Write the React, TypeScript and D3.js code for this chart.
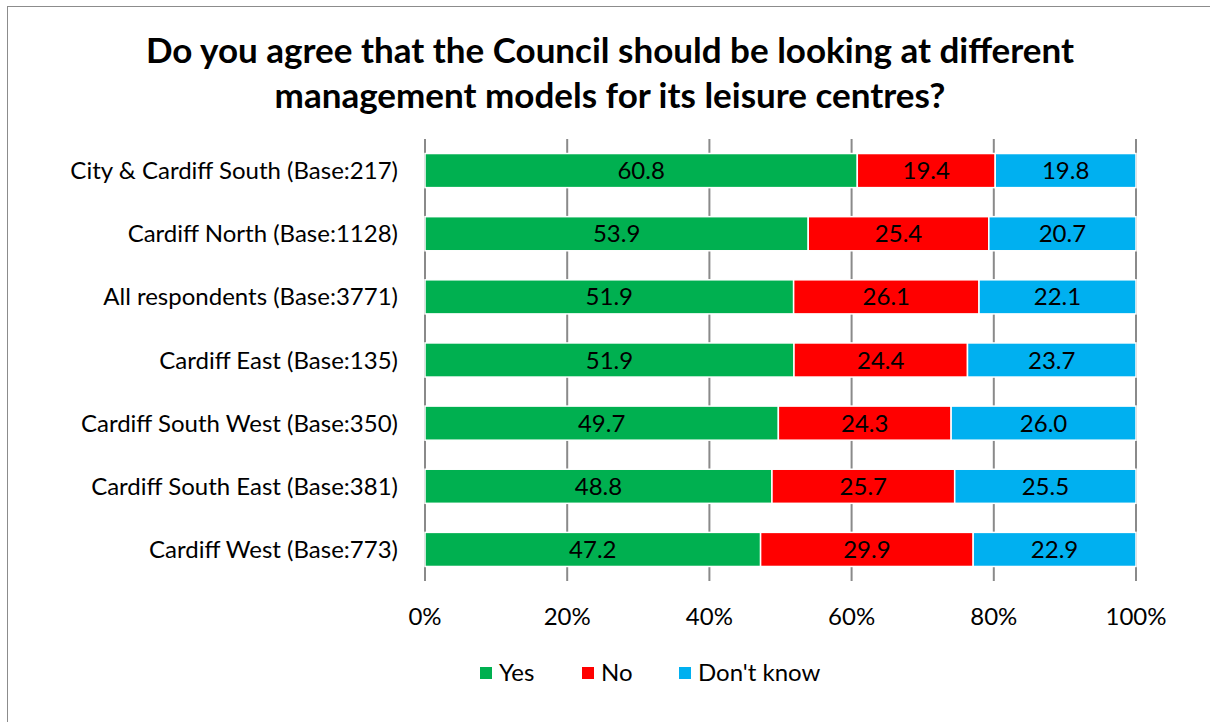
import React from "react";
import * as d3 from "d3";

const categories = [
  "City & Cardiff South (Base:217)",
  "Cardiff North (Base:1128)",
  "All respondents (Base:3771)",
  "Cardiff East (Base:135)",
  "Cardiff South West (Base:350)",
  "Cardiff South East (Base:381)",
  "Cardiff West (Base:773)",
];
const yesValues = [60.8, 53.9, 51.9, 51.9, 49.7, 48.8, 47.2];
const noValues = [19.4, 25.4, 26.1, 24.4, 24.3, 25.7, 29.9];
const dontKnowValues = [19.8, 20.7, 22.1, 23.7, 26.0, 25.5, 22.9];
const seriesNames = ["Yes", "No", "Don't know"];
const seriesColors = ["#00B050", "#FF0000", "#00B0F0"];
const tickValues = [0, 20, 40, 60, 80, 100];
const titleLines = [
  "Do you agree that the Council should be looking at different",
  "management models for its leisure centres?",
];

const W = 1210;
const H = 722;
const FONT = "Lato, 'Open Sans', sans-serif";

export default function App() {
  const x = d3.scaleLinear().domain([0, 100]).range([425, 1136]);
  const y = d3.scaleBand<string>().domain(categories).range([139, 581]).paddingInner(0.46).paddingOuter(0.23);

  const rows = categories.map((c, i) => {
    const vals = [yesValues[i], noValues[i], dontKnowValues[i]];
    const total = d3.sum(vals);
    let acc = 0;
    return vals.map((v, k) => {
      const start = (acc / total) * 100;
      acc += v;
      const end = (acc / total) * 100;
      return { c, k, v, start, end };
    });
  });

  const legendX = [480, 582, 679];

  return (
    <svg width={W} height={H} style={{ position: "absolute", left: 0, top: 0 }} fontFamily={FONT}>
      <rect x={0} y={0} width={W} height={H} fill="#fff" />
      <rect x={7.5} y={6.5} width={W + 20} height={H + 20} fill="#fff" stroke="#8c8c8c" strokeWidth={1} />
      {titleLines.map((t, i) => (
        <text key={i} x={610} y={63 + i * 45} textAnchor="middle" fontSize={35} fontWeight={700} fill="#000">
          {t}
        </text>
      ))}
      {tickValues.map((t) => (
        <line key={t} x1={x(t)} x2={x(t)} y1={139} y2={581} stroke="#8a8a8a" strokeWidth={2} />
      ))}
      {rows.map((segs) =>
        segs.map((s) => (
          <g key={s.c + s.k}>
            <rect
              x={x(s.start)}
              y={y(s.c)!}
              width={x(s.end) - x(s.start)}
              height={y.bandwidth()}
              fill={seriesColors[s.k]}
              stroke="#fff"
              strokeWidth={1.5}
            />
            <text
              x={(x(s.start) + x(s.end)) / 2}
              y={y(s.c)! + y.bandwidth() / 2}
              dy="0.36em"
              textAnchor="middle"
              fontSize={24}
              fill="#000"
            >
              {s.v.toFixed(1)}
            </text>
          </g>
        ))
      )}
      {categories.map((c) => (
        <text key={c} x={398} y={y(c)! + y.bandwidth() / 2} dy="0.36em" textAnchor="end" fontSize={24} fill="#000">
          {c}
        </text>
      ))}
      {tickValues.map((t) => (
        <text key={t} x={x(t)} y={625} textAnchor="middle" fontSize={24} fill="#000">
          {t}%
        </text>
      ))}
      {seriesNames.map((n, i) => (
        <g key={n}>
          <rect x={legendX[i]} y={667} width={12} height={12} fill={seriesColors[i]} />
          <text x={legendX[i] + 19} y={681} fontSize={24} fill="#000">
            {n}
          </text>
        </g>
      ))}
    </svg>
  );
}
